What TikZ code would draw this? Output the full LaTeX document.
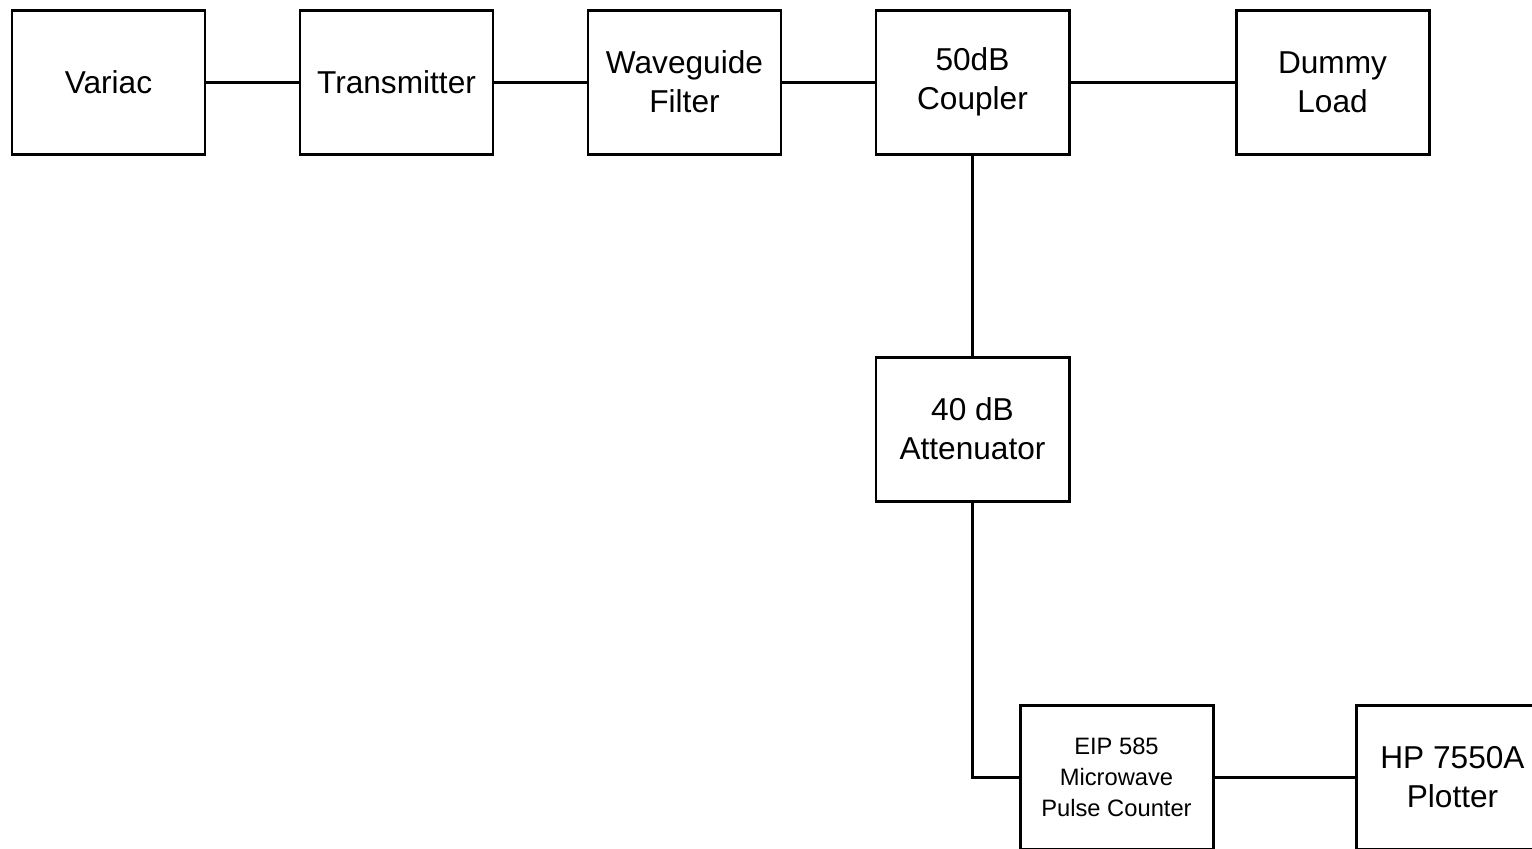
\documentclass[tikz,border=0pt]{standalone}
\usepackage{fontspec}
\setmainfont{Liberation Sans}
\usetikzlibrary{positioning}

\begin{document}
\begin{tikzpicture}[
        every node/.style={font=\fontsize{18}{22}\selectfont},
        unit/.style={draw, line width=1.7pt, minimum width=3.86cm,
          minimum height=2.88cm, align=center, inner sep=0pt},
        small/.style={font=\fontsize{13.5}{17.6}\selectfont},
        link/.style={line width=1.7pt}]
      \useasboundingbox (0,0) rectangle (30.64,-16.96);
      % main chain along the top
      \node[unit] (variac) at (2.17,-1.64) {Variac};
      \node[unit] (tx) at (7.93,-1.64) {Transmitter};
      \node[unit] (filter) at (13.69,-1.64) {Waveguide\\Filter};
      \node[unit] (coupler) at (19.45,-1.64) {50dB\\Coupler};
      \node[unit] (load) at (26.65,-1.64) {Dummy\\Load};
      % sampled branch
      \node[unit] (atten) at (19.45,-8.58) {40 dB\\Attenuator};
      \node[unit, small] (counter) at (22.33,-15.54)
        {EIP 585\\Microwave\\Pulse Counter};
      \node[unit] (plotter) at (29.05,-15.54) {HP 7550A\\Plotter};
      \draw[link] (variac) -- (tx);
      \draw[link] (tx) -- (filter);
      \draw[link] (filter) -- (coupler);
      \draw[link] (coupler) -- (load);
      \draw[link] (coupler) -- (atten);
      \draw[link] (atten.south) |- (counter.west);
      \draw[link] (counter) -- (plotter);
    \end{tikzpicture}
\end{document}
